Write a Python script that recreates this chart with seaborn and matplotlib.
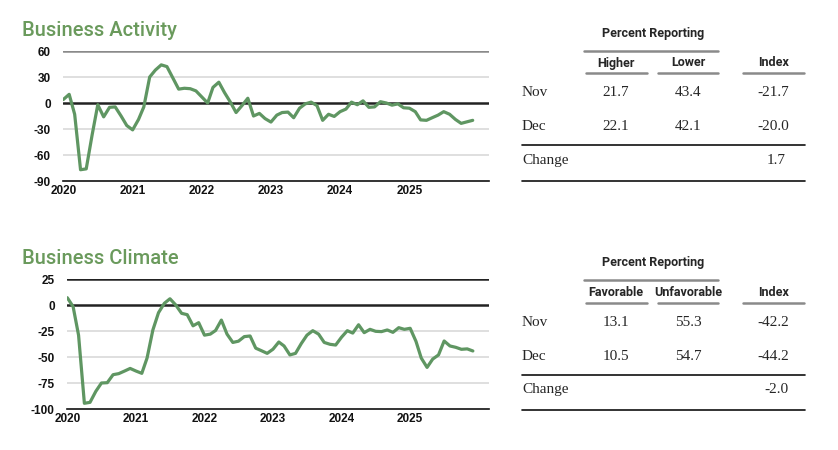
import numpy as np
import pandas as pd
import matplotlib
matplotlib.use("Agg")
import matplotlib.pyplot as plt
import matplotlib.dates as mdates
import seaborn as sns

# monthly index values, Jan 2020 - Dec 2025
months = pd.date_range("2020-01-01", periods=72, freq="MS")

activity = [
    4, 10, -13, -77, -76, -37, -2, -16, -5, -4.5, -15, -26,
    -31, -19, -4.5, 30, 38, 44, 42, 29, 16, 17, 16.5, 14,
    7, 0, 18, 24, 12, 1, -11, -3, 5.5, -15, -12, -18,
    -22, -14, -11, -10.5, -17, -6, -1, 1, -3, -20, -13, -15.5,
    -10, -7, 1, -2, 2.5, -5, -4.5, 1.5, 0, -2.5, -1, -5.5,
    -6, -10, -19.5, -20, -17, -14, -10, -13, -19, -23.5, -21.7, -20.0,
]

climate = [
    7, -1.6, -29, -94.5, -93.6, -83, -75, -74.7, -67, -66, -63.5, -61,
    -63.5, -65.7, -51, -24, -7.4, 1.6, 6, 0, -8, -9.3, -20, -17,
    -29, -28, -24.5, -14.5, -28, -36, -34.8, -30.4, -29.8, -41.5, -44, -46.5,
    -42.5, -35.6, -39.4, -48, -46.5, -37, -29, -24.7, -28, -36, -37.8, -38.5,
    -31, -24.7, -27, -19, -26.6, -23.4, -25.3, -25.6, -24, -26.3, -21.8, -23.4,
    -22.4, -35, -51, -60, -52, -48, -34.6, -39.4, -40.7, -42.6, -42.2, -44.2,
]

year_ticks = pd.date_range("2020-01-01", periods=6, freq="YS")

# table contents
act_cols = ["Higher", "Lower", "Index"]
act_nov = ["21.7", "43.4", "-21.7"]
act_dec = ["22.1", "42.1", "-20.0"]
act_change = "1.7"

clim_cols = ["Favorable", "Unfavorable", "Index"]
clim_nov = ["13.1", "55.3", "-42.2"]
clim_dec = ["10.5", "54.7", "-44.2"]
clim_change = "-2.0"

sns.set_style("white")
plt.rcParams['font.family'] = ['Liberation Sans', 'DejaVu Sans']
plt.rcParams['axes.unicode_minus'] = False

LINE = "#5f9662"
TITLE = "#6a9a5c"
HEAD_FONT = ['Roboto', 'Liberation Sans', 'DejaVu Sans']
SERIF = ['Liberation Serif', 'DejaVu Serif']


def draw_chart(fig, rect, values, ylim, yticks, top_color, tick_colors, title, title_y):
    ax = fig.add_axes(rect)
    df = pd.DataFrame({"date": months, "value": values})
    sns.lineplot(data=df, x="date", y="value", ax=ax, color=LINE, linewidth=2.3)

    for t in yticks[1:-1]:
        if t == 0:
            continue
        ax.axhline(t, color="#d6d6d6", linewidth=1.1, zorder=0)
    ax.axhline(yticks[-1], color=top_color, linewidth=1.8, zorder=1)
    ax.axhline(0, color="#222222", linewidth=1.8, zorder=1)

    ax.set_ylim(ylim)
    ax.set_yticks(yticks)
    ax.set_xlim(pd.Timestamp("2020-01-01"), pd.Timestamp("2026-02-25"))
    ax.set_xticks(year_ticks)
    ax.xaxis.set_major_formatter(mdates.DateFormatter("%Y"))
    ax.set_xlabel("")
    ax.set_ylabel("")

    for s in ["top", "right", "left"]:
        ax.spines[s].set_visible(False)
    ax.spines["bottom"].set_color("#111111")
    ax.spines["bottom"].set_linewidth(1.2)

    ax.tick_params(axis="y", length=0, pad=9, labelsize=8.5)
    ax.tick_params(axis="x", direction="in", length=4.5, width=1, pad=3, labelsize=8.5)
    for tick, c in zip(ax.xaxis.get_major_ticks(), tick_colors):
        tick.tick1line.set_color(c)
    for lab in ax.get_xticklabels() + ax.get_yticklabels():
        lab.set_fontweight("bold")
        lab.set_color("#111111")

    fig.text(22 / 838, 1 - title_y / 450, title, fontsize=14.5, color=TITLE,
             family=HEAD_FONT, fontweight="medium", va="center", ha="left")
    return ax


def draw_table(fig, top, cols, nov, dec, change):
    def fx(px):
        return px / 838

    def fy(py):
        return 1 - (top + py) / 450

    fig.text(fx(653), fy(0), "Percent Reporting", fontsize=9, fontweight="bold",
             family=HEAD_FONT, ha="center", va="center")
    fig.add_artist(plt.Line2D([fx(584), fx(718)], [fy(17.5), fy(17.5)],
                              color="#8a8a8a", linewidth=1.8))

    col_x = [616, 688, 774]
    spans = [(586, 647), (658, 718), (743, 804)]
    for name, cx, (a, b) in zip(cols, col_x, spans):
        fig.text(fx(cx), fy(30), name, fontsize=9, fontweight="bold",
                 family=HEAD_FONT, ha="center", va="center")
        fig.add_artist(plt.Line2D([fx(a), fx(b)], [fy(40), fy(40)],
                                  color="#8a8a8a", linewidth=1.8))

    rows = [("Nov", nov, 60), ("Dec", dec, 94)]
    for label, vals, ry in rows:
        fig.text(fx(522), fy(ry), label, fontsize=11, family=SERIF, ha="left", va="center")
        for v, cx in zip(vals, [616, 688, 773]):
            fig.text(fx(cx), fy(ry), v, fontsize=11, family=SERIF, ha="center", va="center")

    fig.add_artist(plt.Line2D([fx(522), fx(805)], [fy(112), fy(112)],
                              color="#111111", linewidth=1.2))
    fig.text(fx(522), fy(127), "Change", fontsize=11, family=SERIF, ha="left", va="center")
    fig.text(fx(776), fy(127), change, fontsize=11, family=SERIF, ha="center", va="center")
    fig.add_artist(plt.Line2D([fx(522), fx(805)], [fy(147.5), fy(147.5)],
                              color="#111111", linewidth=1.2))


fig = plt.figure(figsize=(8.38, 4.5), dpi=100)

draw_chart(fig, [63.3 / 838, 1 - 181 / 450, (489 - 63.3) / 838, 130 / 450],
           activity, (-90, 60), [-90, -60, -30, 0, 30, 60], "#8a8a8a",
           ["#4472c4", "#e0902a", "#5b9bd5", "#8b1a3a", "#4472c4", "#4472c4"],
           "Business Activity", 30)

draw_chart(fig, [67.3 / 838, 1 - 409 / 450, (489 - 67.3) / 838, 130 / 450],
           climate, (-100, 25), [-100, -75, -50, -25, 0, 25], "#222222",
           ["#4472c4", "#4472c4", "#4472c4", "#e0902a", "#e0902a", "#4472c4"],
           "Business Climate", 259)

draw_table(fig, 33, act_cols, act_nov, act_dec, act_change)
draw_table(fig, 262.5, clim_cols, clim_nov, clim_dec, clim_change)

fig.savefig("out.png", dpi=100)
